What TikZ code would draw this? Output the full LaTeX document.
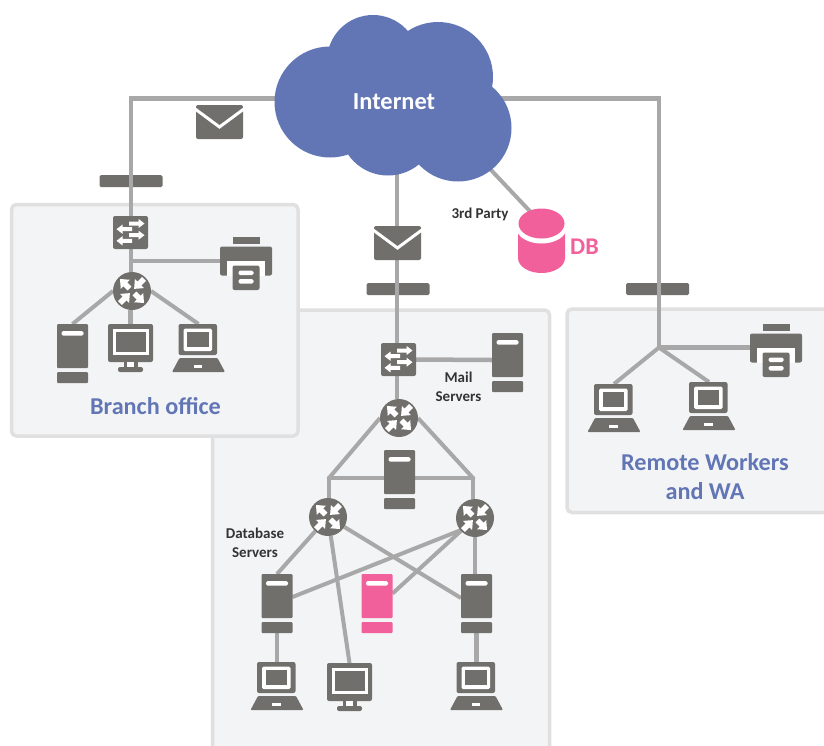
\documentclass[tikz,border=0pt]{standalone}
\usepackage{fontspec}
\setmainfont{Carlito}
\definecolor{dk}{HTML}{716F6C}
\definecolor{ln}{HTML}{A8A8A8}
\definecolor{pk}{HTML}{F2609C}
\definecolor{bl}{HTML}{6276B6}
\definecolor{panel}{HTML}{F3F4F6}
\definecolor{edge}{HTML}{E0E0E0}
\tikzset{
  x=1pt,y=-1pt,
  conn/.style={draw=ln,line width=4.5pt},
  thin conn/.style={draw=ln,line width=4pt},
  panelbox/.style={draw=edge,fill=panel,line width=3.5pt,rounded corners=5pt},
  anchorbox/.style={inner sep=0pt,outer sep=0pt,minimum width=#1},
  anchorbox/.default=1pt,
  cap1/.style={font=\bfseries\fontsize{15}{19}\selectfont,text=black!80,align=center,inner sep=0pt},
  cap2/.style={font=\bfseries\fontsize{24.2}{29}\selectfont,text=bl,align=center,inner sep=0pt},
  pics/switchicon/.style={code={
    \fill[dk,rounded corners=2pt] (-17.5,-16.5) rectangle (17.5,16.5);
    \foreach \yy in {-9,2.7}{
      \fill[white] (-1.5,\yy-2) -- (8,\yy-2) -- (8,\yy-4.6) -- (14,\yy) -- (8,\yy+4.6) -- (8,\yy+2) -- (-1.5,\yy+2) -- cycle;}
    \foreach \yy in {-3.3,8.3}{
      \fill[white] (1.5,\yy-2) -- (-8,\yy-2) -- (-8,\yy-4.6) -- (-14,\yy) -- (-8,\yy+4.6) -- (-8,\yy+2) -- (1.5,\yy+2) -- cycle;}
  }},
  pics/routericon/.style={code={
    \fill[dk] (0,0) circle (19);
    \foreach \a in {-45,135}{
      \begin{scope}[rotate=\a]
      \fill[white] (3.5,-2.7) -- (9.5,-2.7) -- (9.5,-6.4) -- (17,0) -- (9.5,6.4) -- (9.5,2.7) -- (3.5,2.7) -- cycle;
      \end{scope}}
    \foreach \a in {45,225}{
      \begin{scope}[rotate=\a]
      \fill[white] (17,-2.7) -- (10.5,-2.7) -- (10.5,-6.4) -- (3,0) -- (10.5,6.4) -- (10.5,2.7) -- (17,2.7) -- cycle;
      \end{scope}}
  }},
  pics/servericon/.style={code={
    \fill[#1,rounded corners=1pt] (-15.5,-29.5) -- (15.5,-29.5) -- (15.5,14.5) -- (-15.5,14.5) -- cycle;
    \fill[#1,rounded corners=1pt] (-15.5,18.5) rectangle (15.5,29.5);
    \fill[white,rounded corners=1.5pt] (-11,-22.5) rectangle (11,-18);
  }},
  pics/servericon/.default=dk,
  pics/monitoricon/.style={code={
    \fill[dk,rounded corners=2pt] (-22.5,-24) rectangle (22.5,14);
    \fill[white] (-18,-19.5) rectangle (18,7);
    \fill[dk] (-15,-16) rectangle (15,3.5);
    \fill[dk] (-7,14) rectangle (7,20);
    \fill[white] (-3.5,14) rectangle (3.5,19);
    \fill[dk,rounded corners=2pt] (-12.5,19) rectangle (12.5,24);
  }},
  pics/laptopicon/.style={code={
    \fill[dk,rounded corners=2pt] (-20,-24) rectangle (18.5,7);
    \fill[white,rounded corners=1.5pt] (-15,-19.5) rectangle (13.5,3);
    \fill[dk] (-11.5,-16) rectangle (10,-1);
    \fill[dk,rounded corners=1pt] (-19,10) -- (19,10) -- (26.5,24) -- (-26.5,24) -- cycle;
    \fill[white] (-5,17) rectangle (3.5,20);
  }},
  pics/printericon/.style={code={
    \fill[dk] (-13.5,-26.5) rectangle (13.5,-20);
    \fill[dk,rounded corners=2pt] (-26,-17) rectangle (26,12);
    \fill[white] (-19,-3) rectangle (18.5,12.5);
    \fill[dk,rounded corners=2pt] (-13.5,2) rectangle (13.5,26.5);
    \fill[white,rounded corners=1.5pt] (-7.5,7) rectangle (7.5,11.5);
    \fill[white,rounded corners=1.5pt] (-7.5,15.5) rectangle (7.5,20);
  }},
  pics/mailicon/.style={code={
    \fill[dk,rounded corners=2pt] (-23.5,-17) rectangle (23.5,17);
    \draw[white,line width=3pt] (-25,-13.5) -- (0,5) -- (25,-13.5);
  }},
  barbox/.style={fill=dk,rounded corners=1.5pt,minimum width=63pt,minimum height=12pt,inner sep=0pt,outer sep=0pt},
}
\begin{document}
\begin{tikzpicture}
\useasboundingbox (0,0) rectangle (824,745);
\fill[white] (0,0) rectangle (824,745);
% panels
\begin{scope}
\clip (0,0) rectangle (824,745);
\draw[panelbox] (212.5,310) rectangle (549.5,760);
\draw[panelbox] (567,309) rectangle (850,512.5);
\draw[panelbox] (11.5,204.5) rectangle (298,436);
\end{scope}
% anchors
\node[anchorbox=35pt,minimum height=33pt] (swb) at (130.5,232.5) {};
\node[anchorbox=38pt,minimum height=38pt,circle] (rb) at (132,291) {};
\node[anchorbox=31pt,minimum height=59pt] (srvb) at (72.5,353.5) {};
\node[anchorbox=45pt,minimum height=48pt] (monb) at (130.5,348) {};
\node[anchorbox=53pt,minimum height=48pt] (lapb) at (198.5,348) {};
\node[anchorbox=52pt,minimum height=53pt] (prb) at (246,263.5) {};
\node[barbox] (barb) at (131,181) {};
\node[barbox] (barm) at (398,289) {};
\node[barbox] (barr) at (657.5,289) {};
\node[anchorbox=47pt,minimum height=34pt] (mailt) at (219.5,122) {};
\node[anchorbox=47pt,minimum height=34pt] (mailm) at (397.5,243) {};
\node[anchorbox=35pt,minimum height=33pt] (swm) at (398.5,359.5) {};
\node[anchorbox=31pt,minimum height=59pt] (srvm) at (507.5,362.5) {};
\node[anchorbox=38pt,minimum height=38pt,circle] (rm) at (399,418) {};
\node[anchorbox=31pt,minimum height=59pt] (srvc) at (399.5,479.5) {};
\node[anchorbox=38pt,minimum height=38pt,circle] (rl) at (328,517) {};
\node[anchorbox=38pt,minimum height=38pt,circle] (rr) at (475,518) {};
\node[anchorbox=31pt,minimum height=59pt] (srvl) at (277,603.5) {};
\node[anchorbox=31pt,minimum height=59pt] (srvp) at (377,603.5) {};
\node[anchorbox=31pt,minimum height=59pt] (srvr) at (476.5,603.5) {};
\node[anchorbox=53pt,minimum height=48pt] (lapl) at (277,686) {};
\node[anchorbox=45pt,minimum height=48pt] (monm) at (349.5,687) {};
\node[anchorbox=53pt,minimum height=48pt] (lapr) at (476.5,686) {};
\node[anchorbox=53pt,minimum height=48pt] (lapa) at (614,408) {};
\node[anchorbox=53pt,minimum height=48pt] (lapc) at (709,406) {};
\node[anchorbox=52pt,minimum height=53pt] (prr) at (776,350.5) {};
\node[anchorbox=47pt,minimum height=65pt] (db) at (541.5,241) {};
\coordinate (cl) at (300,98.5);
\coordinate (cr) at (490,98.5);
\coordinate (cb) at (397,150);
\coordinate (cd) at (475,153);
\coordinate (ja) at (131,98.5);
\coordinate (jb) at (659,98.5);
\coordinate (jc) at (659,347.5);
\coordinate (jd) at (131,261);
\coordinate (je) at (329,478);
\coordinate (jf) at (473,478);
% connectors
\draw[conn] (cl) -- (ja) -- (ja |- swb.north);
\draw[conn] (cr) -- (jb) -- (jc);
\draw[conn] (cb) -- (cb |- swm.north);
\draw[thin conn] (cd) -- ([yshift=17.5pt]db.center);
\draw[conn] (ja |- swb.south) -- (ja |- rb.north);
\draw[conn] (jd) -- (jd -| prb.west);
\draw[thin conn] (rb.west) -- (srvb.north);
\draw[conn] (monb.north |- rb.south) -- (monb.north);
\draw[thin conn] (rb.east) -- (lapb.north);
\draw[conn] (swm.south -| cb) -- (cb |- rm.north);
\draw[conn] (swm.east) -- ([yshift=2.5pt]srvm.west);
\draw[thin conn] (rm.west) -- (je);
\draw[thin conn] (rm.east) -- (jf);
\draw[conn,line cap=round] (je) -- (jf);
\draw[conn] (je) -- (je |- rl.north);
\draw[conn] (jf) -- (jf |- rr.north);
\draw[thin conn] (rl) -- (srvl.north);
\draw[thin conn] (rl) -- (monm.north);
\draw[thin conn] (rl) -- ([yshift=5.5pt]srvr.west);
\draw[thin conn] ([yshift=-6.5pt]rr.center) -- ([yshift=6.5pt]srvl.east);
\draw[thin conn] (rr) -- ([yshift=10pt]srvp.east);
\draw[conn] (rr) -- (rr |- srvr.north);
\draw[conn] (srvl) -- (lapl);
\draw[conn] (srvr) -- (lapr);
\draw[thin conn] (jc) -- (lapa.north);
\draw[thin conn] (jc) -- (lapc.north);
\draw[conn] (jc) -- (jc -| prr.west);
% cloud
\fill[bl] (330,102) circle (55.5) (373,61) circle (46) (438,77) circle (55) (458,128) circle (53.5) (388,127) circle (48.5) (400,100) circle (55);
\node[font=\bfseries\fontsize{24.4}{24}\selectfont,text=white,inner sep=0pt] (inet) at (394,102) {Internet};
% icons
\pic at (swb) {switchicon};
\pic at (swm) {switchicon};
\foreach \n in {rb,rm,rl,rr} \pic at (\n) {routericon};
\foreach \n in {srvb,srvm,srvc,srvl,srvr} \pic at (\n) {servericon};
\pic at (srvp) {servericon=pk};
\foreach \n in {monb,monm} \pic at (\n) {monitoricon};
\foreach \n in {lapb,lapl,lapr,lapa,lapc} \pic at (\n) {laptopicon};
\foreach \n in {prb,prr} \pic at (\n) {printericon};
\foreach \n in {mailt,mailm} \pic at (\n) {mailicon};
% database
\fill[pk] (518,224) -- (565,224) -- (565,258) arc[x radius=23.5,y radius=15,start angle=0,end angle=180] -- cycle;
\fill[white] (541.5,228) ellipse (25 and 15.5);
\fill[pk] (541.5,223.5) ellipse (23 and 15);
% labels
\node[font=\bfseries\fontsize{24}{24}\selectfont,text=pk,inner sep=0pt] (dbl) at (584.5,246.5) {DB};
\node[cap1] (t3) at (480,214.5) {3rd Party};
\node[cap1] (tm) at (458.5,386.5) {Mail\\Servers};
\node[cap1] (td) at (255,542.5) {Database\\Servers};
\node[cap2] (tb) at (155.5,406) {Branch office};
\node[cap2] (tr) at (705,476.5) {Remote Workers\\and WA};
\end{tikzpicture}
\end{document}
